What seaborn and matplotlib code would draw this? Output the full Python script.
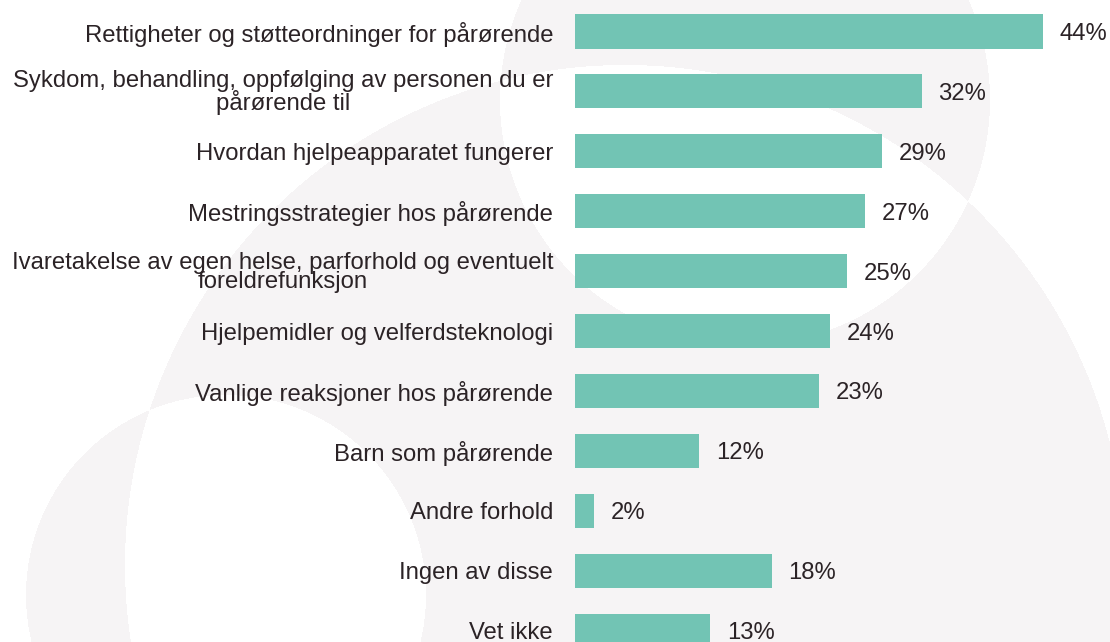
import numpy as np
import pandas as pd
import matplotlib
matplotlib.use("Agg")
import matplotlib.pyplot as plt
from matplotlib.colors import ListedColormap
import seaborn as sns

# data lest av bildet
kategorier = [
    "Rettigheter og støtteordninger for pårørende",
    "Sykdom, behandling, oppfølging av personen du er\npårørende til",
    "Hvordan hjelpeapparatet fungerer",
    "Mestringsstrategier hos pårørende",
    "Ivaretakelse av egen helse, parforhold og eventuelt\nforeldrefunksjon",
    "Hjelpemidler og velferdsteknologi",
    "Vanlige reaksjoner hos pårørende",
    "Barn som pårørende",
    "Andre forhold",
    "Ingen av disse",
    "Vet ikke",
]
verdier = [44.0, 32.6, 28.9, 27.3, 25.6, 24.0, 22.9, 11.7, 1.8, 18.5, 12.7]
etiketter = ["44%", "32%", "29%", "27%", "25%", "24%", "23%", "12%", "2%", "18%", "13%"]

tekstfarge = "#2b2326"
stolpefarge = "#72c4b4"
fs = 17.2

sns.set_theme(style="white")
plt.rcParams['font.family'] = ['Liberation Sans', 'DejaVu Sans']

W, H = 1110, 642
fig = plt.figure(figsize=(W / 100, H / 100), dpi=100)

# bakgrunn: lysegrå sirkler (partall overlapp = hvit)
bg = fig.add_axes([0, 0, 1, 1], zorder=0)
yy, xx = np.mgrid[0:H, 0:W] + 0.5
def inne(cx, cy, r):
    return ((xx - cx) ** 2 + (yy - cy) ** 2 < r ** 2).astype(int)
n = inne(625, 565, 500) + inne(745, 100, 245) + inne(226, 595, 200)
bg.imshow(n % 2, cmap=ListedColormap(["white", "#f6f4f5"]), interpolation="nearest",
          extent=(0, W, H, 0), aspect="auto")
bg.axis("off")

# stolpediagram
ax = fig.add_axes([575 / W, 0, (W - 575) / W, 1], zorder=1)
ax.patch.set_alpha(0)
df = pd.DataFrame({"kategori": kategorier, "andel": verdier})
sns.barplot(data=df, x="andel", y="kategori", color=stolpefarge, saturation=1,
            width=0.57, linewidth=0, ax=ax)

tekster = ax.bar_label(ax.containers[0], labels=etiketter, padding=12, fontsize=fs,
                       color=tekstfarge)
for t in tekster:
    t.set_verticalalignment("center_baseline")

ax.set_xlim(0, 535 / 10.64)
ax.set_ylim(10.19, -0.526)
ax.set_xlabel("")
ax.set_ylabel("")
ax.set_xticks([])
ax.tick_params(axis="y", length=0, pad=15.8, labelsize=fs, labelcolor=tekstfarge)
for lbl in ax.get_yticklabels():
    lbl.set_multialignment("center")
    lbl.set_linespacing(0.87)
sns.despine(ax=ax, left=True, bottom=True)

fig.savefig("out.png", dpi=100)
